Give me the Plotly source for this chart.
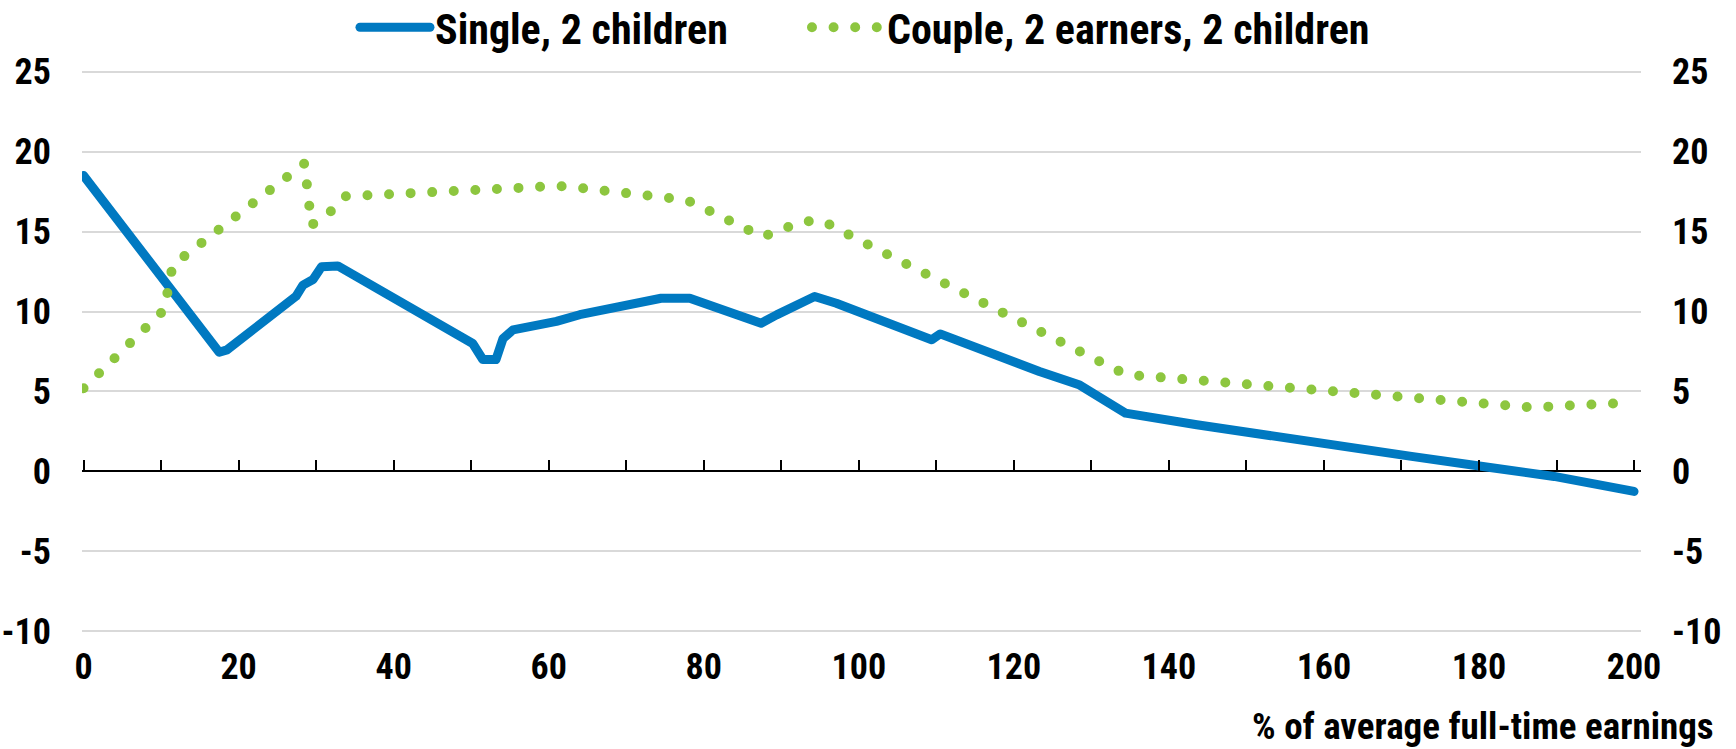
import plotly.graph_objects as go

# ---- data ----
x_single = [0, 17.5, 18.5, 27.4, 28.3, 29.6, 30.7, 32.2, 32.8, 50.2, 51.5, 53.2, 54.1, 55.4,
            58, 59.3, 61, 64, 69.1, 74.5, 78.2, 82.5, 85.5, 87.4, 89.4, 92.4, 94.3, 97.1,
            100.6, 104, 107, 109.4, 110.5, 113.5, 116.5, 119.9, 123.3, 128.5, 134.4, 143.6,
            157.5, 171.3, 180.5, 189.7, 200]
y_single = [18.5, 7.45, 7.6, 10.95, 11.65, 12.0, 12.8, 12.92, 12.85, 8.0, 7.0, 7.0, 8.3, 8.85,
            9.06, 9.27, 9.38, 9.8, 10.3, 10.83, 10.83, 10.1, 9.58, 9.27, 9.79, 10.42, 10.94, 10.52,
            9.9, 9.27, 8.75, 8.23, 8.6, 8.02, 7.5, 6.88, 6.25, 5.4, 3.65, 2.92,
            1.875, 0.94, 0.31, -0.31, -1.25]

x_couple = [0, 10.4, 11.5, 28.5, 29.4, 32.0, 33.7, 36.5, 42, 50.3, 55.7, 58.5, 61.2, 64, 69.5,
            75, 77.7, 80.2, 85.1, 87.6, 90.2, 92.7, 95.3, 97.8, 100.2, 129.7, 134.5, 137.5,
            143, 151.2, 159.5, 167.7, 176, 184.3, 187, 192.5, 200]
y_couple = [5.2, 10.1, 12.9, 19.26, 15.4, 16.3, 17.2, 17.27, 17.44, 17.6, 17.69, 17.79, 17.85,
            17.73, 17.44, 17.13, 16.98, 16.42, 15.19, 14.67, 15.15, 15.63, 15.67, 15.04, 14.42,
            7.21, 6.05, 5.94, 5.73, 5.4, 5.08, 4.77, 4.42, 4.13, 4.0, 4.15, 4.3]

series_names = ["Single, 2 children", "Couple, 2 earners, 2 children"]
x_ticks = [0, 20, 40, 60, 80, 100, 120, 140, 160, 180, 200]
y_ticks = [-10, -5, 0, 5, 10, 15, 20, 25]
y_ticktext = ["-10", "-5", "0", "5", "10", "15", "20", "25"]
x_title = "% of average full-time earnings"

BLUE = "#0079C1"
GREEN = "#8DC63F"
FONT = "Roboto, Liberation Sans, sans-serif"


def narrow(s):
    return f"<span style='font-stretch:82%'>{s}</span>"


fig = go.Figure()
fig.add_trace(go.Scatter(x=x_single, y=y_single, mode="lines", name=narrow(series_names[0]),
                         line=dict(color=BLUE, width=9), xaxis="x", yaxis="y",
                         legendwidth=367))
fig.add_trace(go.Scatter(x=x_couple, y=y_couple, mode="lines", name=narrow(series_names[1]),
                         line=dict(color=GREEN, width=10, dash="0px,21.6px"),
                         xaxis="x2", yaxis="y2", legendwidth=600))

# small padding so Plotly keeps the edge grid lines / edge ticks
XR = [-0.2, 200.9]
YR = [-10.1, 25.1]
ZERO_POS = (0 - YR[0]) / (YR[1] - YR[0])
tickfont = dict(family=FONT, size=36, color="black", weight="bold")

fig.update_layout(
    template="none",
    width=1736, height=749,
    margin=dict(l=82, r=95, t=70, b=116, autoexpand=False),
    paper_bgcolor="white", plot_bgcolor="white",
    font=dict(family=FONT, color="black"),
    showlegend=True,
    legend=dict(orientation="h", x=0.1751, xanchor="left", y=1.0755, yanchor="middle",
                font=dict(family=FONT, size=42, color="black", weight="bold"),
                itemwidth=70, entrywidthmode="pixels",
                bgcolor="rgba(0,0,0,0)", borderwidth=0),
    xaxis=dict(range=XR, tickvals=x_ticks, ticktext=[narrow(str(v)) for v in x_ticks],
               showgrid=False, zeroline=False, showline=False, automargin=False,
               ticks="", tickfont=tickfont, ticklabelstandoff=9),
    xaxis2=dict(range=XR, overlaying="x", anchor="free", position=ZERO_POS, side="bottom",
                tick0=0, dtick=10, ticks="inside", ticklen=11, tickwidth=1.5, tickcolor="black",
                showline=False, showticklabels=False, showgrid=False, zeroline=False,
                automargin=False),
    yaxis=dict(range=YR, tickvals=y_ticks, ticktext=[narrow(t) for t in y_ticktext],
               showgrid=True, gridcolor="#D9D9D9", gridwidth=1.5,
               zeroline=True, zerolinecolor="black", zerolinewidth=1.5, automargin=False,
               showline=False, ticks="", tickfont=tickfont, ticklabelstandoff=30),
    yaxis2=dict(range=YR, tickvals=y_ticks, ticktext=[narrow(t) for t in y_ticktext],
                overlaying="y", side="right", anchor="x", showgrid=False, zeroline=False,
                showline=False, ticks="", tickfont=tickfont, ticklabelstandoff=30,
                automargin=False),
    annotations=[dict(text=narrow(x_title), xref="paper", yref="paper", x=1.0481,
                      xanchor="right", y=-0.1666, yanchor="middle", showarrow=False,
                      font=dict(family=FONT, size=37, color="black", weight="bold"))],
)

post = ("document.body.style.margin='0';"
        "document.documentElement.style.overflow='hidden';"
        "var s=document.createElement('style');"
        "s.textContent='.js-line{stroke-linecap:round;stroke-linejoin:round}';"
        "document.head.appendChild(s);")
fig.write_html("out.html", post_script=post, config={"displayModeBar": False})
